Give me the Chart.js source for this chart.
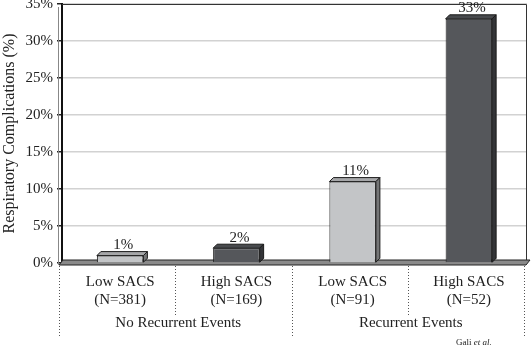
<!DOCTYPE html>
<html>
<head>
<meta charset="utf-8">
<script src="https://cdn.jsdelivr.net/npm/chart.js@4/dist/chart.umd.min.js"></script>
<style>
  html, body { margin: 0; padding: 0; background: #fff; }
  #wrap { width: 531px; height: 353px; }
</style>
</head>
<body>
<div id="wrap"><canvas id="chart" width="531" height="353"></canvas></div>
<script>
// data
const categories = [["Low SACS", "(N=381)"], ["High SACS", "(N=169)"], ["Low SACS", "(N=91)"], ["High SACS", "(N=52)"]];
const values = [1, 2, 11, 33];
const valueLabels = ["1%", "2%", "11%", "33%"];
const groups = ["No Recurrent Events", "Recurrent Events"];
const groupSpan = [2, 2]; // categories per group
const yTicks = [0, 5, 10, 15, 20, 25, 30, 35];

const LIGHT = "#c3c5c7";
const DARK = "#55575b";
const barColors = [LIGHT, DARK, LIGHT, DARK];
const serif = "'Liberation Serif', 'Times New Roman', serif";
const D = 4; // depth of the 3d look

function shade(hex, f) {
  const n = parseInt(hex.slice(1), 16);
  const r = Math.round(((n >> 16) & 255) * f), g = Math.round(((n >> 8) & 255) * f), b = Math.round((n & 255) * f);
  return "rgb(" + Math.min(r, 255) + "," + Math.min(g, 255) + "," + Math.min(b, 255) + ")";
}

// floor, frame, 3d faces, value labels, dividers and group labels
const decor = {
  id: "decor",
  beforeDatasetsDraw(chart) {
    const { ctx, chartArea: a } = chart;
    ctx.save();
    // frame top + right
    ctx.strokeStyle = "#333";
    ctx.lineWidth = 1;
    ctx.beginPath();
    ctx.moveTo(a.left, a.top + 0.5);
    ctx.lineTo(a.right - 0.5, a.top + 0.5);
    ctx.lineTo(a.right - 0.5, a.bottom);
    ctx.stroke();
    // floor band
    ctx.fillStyle = "#8a8a8a";
    ctx.strokeStyle = "#222";
    ctx.beginPath();
    ctx.moveTo(a.left - 3, a.bottom + 2);
    ctx.lineTo(a.left + 1, a.bottom - 3);
    ctx.lineTo(a.right + 3, a.bottom - 3);
    ctx.lineTo(a.right - 1, a.bottom + 2);
    ctx.closePath();
    ctx.fill();
    ctx.stroke();
    // left wall shadow
    ctx.strokeStyle = "#888";
    ctx.beginPath();
    ctx.moveTo(a.left - 3.5, a.top + 3);
    ctx.lineTo(a.left - 3.5, a.bottom + 2);
    ctx.stroke();
    ctx.restore();
  },
  afterDatasetsDraw(chart) {
    const { ctx, chartArea: a } = chart;
    const meta = chart.getDatasetMeta(0);
    ctx.save();
    ctx.lineWidth = 1;
    ctx.strokeStyle = "#1a1a1a";
    meta.data.forEach((bar, i) => {
      const l = bar.x - bar.width / 2, r = bar.x + bar.width / 2, t = bar.y, b = bar.base;
      const c = barColors[i];
      // top face
      ctx.fillStyle = shade(c, 0.85);
      ctx.beginPath();
      ctx.moveTo(l, t); ctx.lineTo(l + D, t - D); ctx.lineTo(r + D, t - D); ctx.lineTo(r, t);
      ctx.closePath(); ctx.fill(); ctx.stroke();
      // side face
      ctx.fillStyle = shade(c, 0.6);
      ctx.beginPath();
      ctx.moveTo(r, t); ctx.lineTo(r + D, t - D); ctx.lineTo(r + D, b - D); ctx.lineTo(r, b);
      ctx.closePath(); ctx.fill(); ctx.stroke();
      // value label
      ctx.fillStyle = "#222";
      ctx.font = "15px " + serif;
      ctx.textAlign = "center";
      ctx.textBaseline = "bottom";
      ctx.fillText(valueLabels[i], bar.x + 3, t - D + 1);
    });

    // dotted dividers under the axis
    const x = chart.scales.x;
    const step = (a.right - a.left) / categories.length;
    ctx.strokeStyle = "#555";
    ctx.setLineDash([1, 2]);
    let idx = 0;
    const bounds = [0];
    groupSpan.forEach(s => { idx += s; bounds.push(idx); });
    for (let k = 0; k <= categories.length; k++) {
      const px = Math.round(a.left + k * step - 3) + 0.5;
      const isGroupEdge = bounds.includes(k);
      ctx.beginPath();
      ctx.moveTo(px, a.bottom + 3);
      ctx.lineTo(px, isGroupEdge ? a.bottom + 73 : a.bottom + 52);
      ctx.stroke();
    }
    ctx.setLineDash([]);

    // group labels
    ctx.fillStyle = "#222";
    ctx.font = "15px " + serif;
    ctx.textAlign = "center";
    ctx.textBaseline = "middle";
    let start = 0;
    groups.forEach((g, gi) => {
      const end = start + groupSpan[gi];
      const cx = (x.getPixelForValue(start) + x.getPixelForValue(end - 1)) / 2;
      ctx.fillText(g, cx, a.bottom + 60);
      start = end;
    });

    // source note
    ctx.font = "9px " + serif;
    ctx.textAlign = "left";
    ctx.textBaseline = "middle";
    const sx = 456, sy = 343;
    ctx.fillText("Gali ", sx, sy);
    const w = ctx.measureText("Gali ").width;
    ctx.font = "italic 9px " + serif;
    ctx.fillText("et al.", sx + w, sy);
    ctx.restore();
  }
};

new Chart(document.getElementById("chart"), {
  type: "bar",
  data: {
    labels: categories,
    datasets: [{
      data: values,
      backgroundColor: barColors,
      borderColor: "#1a1a1a",
      borderWidth: 1,
      barPercentage: 0.4,
      categoryPercentage: 1
    }]
  },
  options: {
    responsive: false,
    animation: false,
    layout: { padding: { top: 4, right: 4, left: 0, bottom: 0 } },
    plugins: { legend: { display: false }, tooltip: { enabled: false } },
    scales: {
      x: {
        grid: { display: false, drawTicks: false },
        border: { display: false },
        ticks: { color: "#222", font: { family: serif, size: 15, lineHeight: 1.2 }, padding: 10, maxRotation: 0 },
        afterFit(s) { s.height = 90; }
      },
      y: {
        min: 0,
        max: 35,
        afterBuildTicks(s) { s.ticks = yTicks.map(v => ({ value: v })); },
        grid: { color: "#d2d2d2", lineWidth: 1.5, tickColor: "#222", tickLength: 5, drawOnChartArea: true },
        border: { color: "#111", width: 2 },
        ticks: {
          color: "#222",
          font: { family: serif, size: 15 },
          padding: 4,
          callback: v => v + "%"
        },
        title: {
          display: true,
          text: "Respiratory Complications (%)",
          color: "#222",
          font: { family: serif, size: 16 },
          padding: { top: 0, bottom: 2 }
        },
        afterFit(s) { s.width = 62; s.paddingTop = 0; s.paddingBottom = 0; }
      }
    }
  },
  plugins: [decor]
});
</script>
</body>
</html>
